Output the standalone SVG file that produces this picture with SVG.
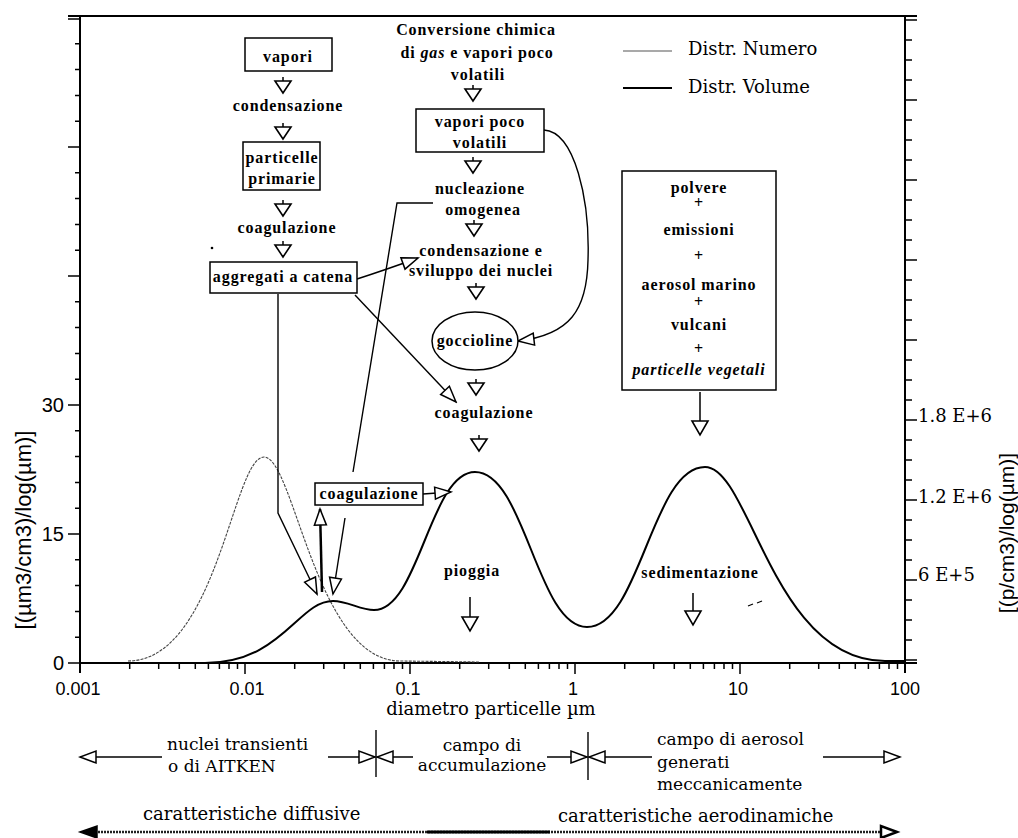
<svg xmlns="http://www.w3.org/2000/svg" width="1018" height="838" viewBox="0 0 1018 838">
<defs>
<style>
.fc{font-family:"Liberation Serif",serif;font-weight:bold;font-size:16px;letter-spacing:0.9px;text-anchor:middle;fill:#000}
.lab{font-family:"DejaVu Serif",serif;font-size:17px;fill:#000}
.num{font-family:"Liberation Sans",Arial,sans-serif;font-size:18px;fill:#000}
.box{fill:#fff;stroke:#000;stroke-width:1.5}
.ln{fill:none;stroke:#000;stroke-width:1.4}
.ax{fill:none;stroke:#000;stroke-width:2}
.tk{fill:none;stroke:#000;stroke-width:1.5}
.tri{fill:#fff;stroke:#000;stroke-width:1.6;stroke-linejoin:miter}
</style>
<marker id="ah" markerUnits="userSpaceOnUse" markerWidth="20" markerHeight="16" viewBox="-18 -8 20 16" refX="0" refY="0" orient="auto">
<path d="M0,0 L-16,-6 L-16,6 Z" fill="#fff" stroke="#000" stroke-width="1.5"/>
</marker>
<g id="dtri"><path d="M0,-9 V-5" class="tk"/><path d="M-8,-5 L8,-5 L0,7 Z" class="tri"/></g>
</defs>
<rect width="1018" height="838" fill="#fff"/>

<g id="axes">
<path class="ax" d="M68,16 H917 M80,16 V673 M905,16 V673 M80,663 H917"/>
<path class="tk" d="M68,663 H80 M75,637.2 H80 M75,611.4 H80 M75,585.6 H80 M75,559.8 H80 M68,534 H80 M75,508.2 H80 M75,482.4 H80 M75,456.6 H80 M75,430.8 H80 M68,405 H80 M75,379.2 H80 M75,353.4 H80 M75,327.6 H80 M75,301.8 H80 M68,276 H80 M75,250.2 H80 M75,224.4 H80 M75,198.6 H80 M75,172.8 H80 M68,147 H80 M75,121.2 H80 M75,95.4 H80 M75,69.6 H80 M75,43.8 H80 M68,19 H80"/>
<path class="tk" d="M905,660 H917 M905,640 H912 M905,620 H912 M905,600 H912 M905,580 H917 M905,560 H912 M905,540 H912 M905,520 H912 M905,500 H917 M905,480 H912 M905,460 H912 M905,440 H912 M905,420 H917 M905,400 H912 M905,380 H912 M905,360 H912 M905,340 H917 M905,320 H912 M905,300 H912 M905,280 H912 M905,260 H917 M905,240 H912 M905,220 H912 M905,200 H912 M905,180 H917 M905,160 H912 M905,140 H912 M905,120 H912 M905,100 H917 M905,80 H912 M905,60 H912 M905,40 H912 M905,20 H917"/>
<path class="tk" d="M245,663 V674 M410,663 V674 M575,663 V674 M740,663 V674 M129.7,663 V669 M158.7,663 V669 M179.3,663 V669 M195.3,663 V669 M208.4,663 V669 M219.4,663 V669 M229,663 V669 M237.5,663 V669 M294.7,663 V669 M323.7,663 V669 M344.3,663 V669 M360.3,663 V669 M373.4,663 V669 M384.4,663 V669 M394,663 V669 M402.5,663 V669 M459.7,663 V669 M488.7,663 V669 M509.3,663 V669 M525.3,663 V669 M538.4,663 V669 M549.4,663 V669 M559,663 V669 M567.5,663 V669 M624.7,663 V669 M653.7,663 V669 M674.3,663 V669 M690.3,663 V669 M703.4,663 V669 M714.4,663 V669 M724,663 V669 M732.5,663 V669 M789.7,663 V669 M818.7,663 V669 M839.3,663 V669 M855.3,663 V669 M868.4,663 V669 M879.4,663 V669 M889,663 V669 M897.5,663 V669"/>
<g class="num" text-anchor="end" style="font-size:20px">
<text x="64" y="670">0</text>
<text x="64" y="541">15</text>
<text x="64" y="412">30</text>
</g>
<g class="num" text-anchor="middle">
<text x="78" y="695">0.001</text>
<text x="247" y="695">0.01</text>
<text x="408" y="695">0.1</text>
<text x="573" y="695">1</text>
<text x="738" y="695">10</text>
<text x="905" y="695">100</text>
</g>
<g class="lab" style="font-size:18px">
<text x="918" y="422">1.8 E+6</text>
<text x="918" y="503">1.2 E+6</text>
<text x="918" y="581">6 E+5</text>
</g>
<text class="num" style="font-size:22px" text-anchor="middle" transform="translate(31,530) rotate(-90)">[(µm3/cm3)/log(µm)]</text>
<text class="num" style="font-size:21px" text-anchor="middle" transform="translate(1014,533) rotate(-90)">[(p/cm3)/log(µm)]</text>
<text class="lab" style="font-size:18px" x="491" y="715" text-anchor="middle">diametro particelle µm</text>
</g>

<g id="legend">
<path d="M623,51 H672" stroke="#555" stroke-width="1.2"/>
<path d="M623,88 H672" stroke="#000" stroke-width="2"/>
<text class="lab" style="font-size:18px" x="688" y="55">Distr. Numero</text>
<text class="lab" style="font-size:18px" x="688" y="93">Distr. Volume</text>
</g>

<g id="curves">
<path id="numero" fill="none" stroke="#444" stroke-width="1.1" stroke-dasharray="3 1.2" d="M128,661 C217,661 233,457 264,457 C294,457 316,661 400,661 L480,662"/>
<path id="volume" fill="none" stroke="#000" stroke-width="2" d="M195,663 L205,663 C282,663 298,601 333,601 C348,601 360,610 374,610 C419,610 430,472 475,472 C525,472 537,627 587,627 C640,627 652,467 705,467 C750,467 773,661 885,661 L905,661"/>
</g>

<g id="connectors">
<path class="ln" d="M357,279 Q385,270 418,258" marker-end="url(#ah)"/>
<path class="ln" d="M355,295 L456,402" marker-end="url(#ah)"/>
<path class="ln" d="M278,294 V513 L317,594" marker-end="url(#ah)"/>
<path class="ln" d="M433,203 H397 L353,472"/>
<path class="ln" d="M345,518 L333,594" marker-end="url(#ah)"/>
<path class="ln" d="M544,130 C575,132 590,200 588,260 C587,310 570,335 518,341" marker-end="url(#ah)"/>
<path class="ln" d="M423,494 L451,492" marker-end="url(#ah)"/>
<path fill="none" stroke="#000" stroke-width="2.5" d="M322,592 L320,509" marker-end="url(#ah)"/>
<use href="#dtri" x="283" y="86"/>
<use href="#dtri" x="283" y="132"/>
<use href="#dtri" x="283" y="209"/>
<use href="#dtri" x="283" y="250"/>
<use href="#dtri" x="473" y="94"/>
<use href="#dtri" x="473" y="166"/>
<use href="#dtri" x="474" y="229"/>
<use href="#dtri" x="476" y="292"/>
<use href="#dtri" x="476" y="388"/>
<use href="#dtri" x="479" y="444"/>
<path class="tk" d="M700,392 V421 M470,597 V617 M693,593 V611"/>
<path class="tri" d="M692,421 L708,421 L700,435 Z M462,617 L478,617 L470,631 Z M685,611 L701,611 L693,625 Z"/>
<circle cx="212" cy="248" r="1.3" fill="#000"/>
<path d="M748,606 L753,604 M757,603 L762,601" stroke="#000" stroke-width="1.3"/>
</g>

<g id="n-vapori">
<rect class="box" x="245" y="38" width="87" height="33"/>
<text class="fc" x="288" y="62">vapori</text>
</g>
<g id="t-condensazione"><text class="fc" x="288" y="111">condensazione</text></g>
<g id="n-particelle">
<rect class="box" x="243" y="142" width="77" height="48"/>
<text class="fc" x="282" y="163">particelle</text>
<text class="fc" x="282" y="184">primarie</text>
</g>
<g id="t-coagulazione1"><text class="fc" x="287" y="233">coagulazione</text></g>
<g id="n-aggregati">
<rect class="box" x="210" y="262" width="147" height="31"/>
<text class="fc" x="283" y="282">aggregati a catena</text>
</g>

<g id="t-conversione">
<text class="fc" x="476" y="35">Conversione chimica</text>
<text class="fc" x="477" y="58">di <tspan font-style="italic">gas</tspan> e vapori poco</text>
<text class="fc" x="478" y="80">volatili</text>
</g>
<g id="n-vapori-poco">
<rect class="box" x="416" y="109" width="128" height="43"/>
<text class="fc" x="480" y="127">vapori poco</text>
<text class="fc" x="480" y="148">volatili</text>
</g>
<g id="t-nucleazione">
<text class="fc" x="480" y="194">nucleazione</text>
<text class="fc" x="483" y="215">omogenea</text>
</g>
<g id="t-sviluppo">
<text class="fc" x="481" y="256">condensazione e</text>
<text class="fc" x="481" y="276">sviluppo dei nuclei</text>
</g>
<g id="n-goccioline">
<ellipse class="box" cx="475" cy="341" rx="43" ry="29"/>
<text class="fc" x="475" y="346">goccioline</text>
</g>
<g id="t-coagulazione2"><text class="fc" x="484" y="418">coagulazione</text></g>
<g id="n-coagulazione3">
<rect class="box" x="315" y="483" width="108" height="22"/>
<text class="fc" x="369" y="499">coagulazione</text>
</g>
<g id="t-pioggia"><text class="fc" x="472" y="576">pioggia</text></g>

<g id="n-sorgenti">
<rect class="box" x="622" y="171" width="154" height="219"/>
<text class="fc" x="699" y="193">polvere</text>
<text class="fc" x="699" y="208">+</text>
<text class="fc" x="699" y="235">emissioni</text>
<text class="fc" x="699" y="261">+</text>
<text class="fc" x="699" y="290">aerosol marino</text>
<text class="fc" x="699" y="307">+</text>
<text class="fc" x="699" y="330">vulcani</text>
<text class="fc" x="699" y="354">+</text>
<text class="fc" x="699" y="375" font-style="italic">particelle vegetali</text>
</g>
<g id="t-sedimentazione"><text class="fc" x="700" y="578">sedimentazione</text></g>

<g id="ranges">
<path class="ln" d="M162,757 H80" marker-end="url(#ah)"/>
<path class="ln" d="M328,757 H375" marker-end="url(#ah)"/>
<path class="ln" d="M376,730 V777"/>
<path class="ln" d="M413,757 H377" marker-end="url(#ah)"/>
<path class="ln" d="M547,757 H587" marker-end="url(#ah)"/>
<path class="ln" d="M588,732 V780"/>
<path class="ln" d="M652,757 H589" marker-end="url(#ah)"/>
<path class="ln" d="M823,757 H900" marker-end="url(#ah)"/>
<g class="lab">
<text x="167" y="750">nuclei transienti</text>
<text x="168" y="772">o di AITKEN</text>
<text x="482" y="751" text-anchor="middle">campo di</text>
<text x="482" y="771" text-anchor="middle">accumulazione</text>
<text x="657" y="745">campo di aerosol</text>
<text x="657" y="768">generati</text>
<text x="657" y="790">meccanicamente</text>
<text x="143" y="820" style="font-size:18px">caratteristiche diffusive</text>
<text x="558" y="822" style="font-size:18px">caratteristiche aerodinamiche</text>
</g>
<path d="M95,832 H882" stroke="#222" stroke-width="2.5" stroke-dasharray="2 1" fill="none"/>
<path d="M427,832 H550" stroke="#000" stroke-width="3" fill="none"/>
<path d="M80,832 L97,826 L97,838 Z" fill="#000" stroke="#000" stroke-width="1.5"/>
<path d="M897,832 L881,826 L881,838 Z" fill="#fff" stroke="#000" stroke-width="2.5"/>
</g>
</svg>
